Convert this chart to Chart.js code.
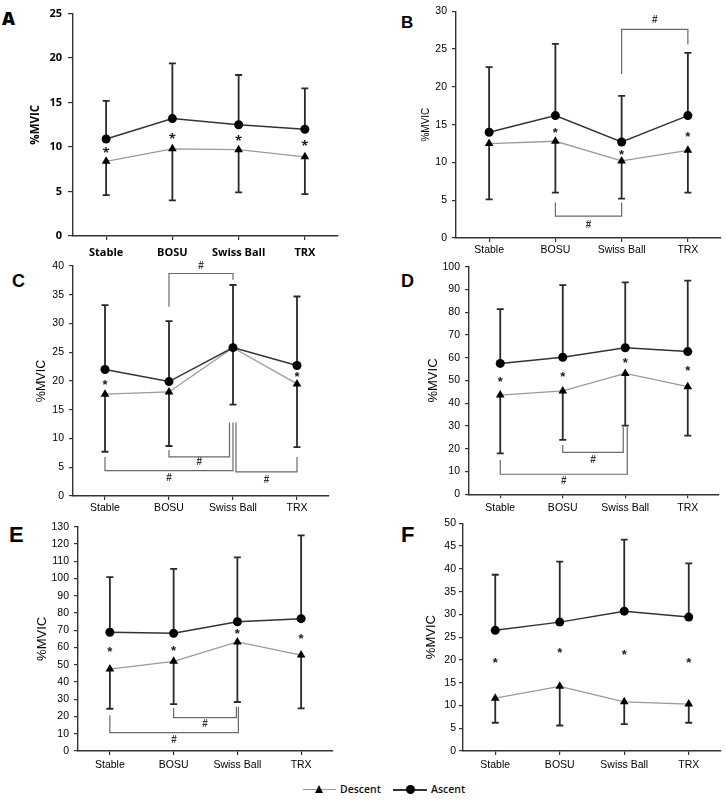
<!DOCTYPE html>
<html>
<head>
<meta charset="utf-8">
<script src="https://cdn.jsdelivr.net/npm/chart.js@4.4.0/dist/chart.umd.min.js"></script>
<style>
  body { margin: 0; background: #fff; width: 726px; height: 800px; position: relative; overflow: hidden; }
  canvas { position: absolute; }
  .letter { position: absolute; font-family: "Liberation Sans", Arial, sans-serif; font-weight: bold; color: #000; line-height: 1; }
  .lg { position: absolute; }
  .lgtext { position: absolute; font-family: "Open Sans", sans-serif; font-weight: 600; font-size: 10.5px; color: #111; line-height: 1; top: 784px; }
</style>
</head>
<body>
<div class="letter" style="left:2px;top:9px;font-size:18px;font-family:'Open Sans';font-weight:800">A</div>
<div class="letter" style="left:401px;top:14px;font-size:17px">B</div>
<div class="letter" style="left:12px;top:272px;font-size:18px">C</div>
<div class="letter" style="left:401px;top:272px;font-size:18px">D</div>
<div class="letter" style="left:9px;top:524px;font-size:22px">E</div>
<div class="letter" style="left:401px;top:524px;font-size:22px">F</div>

<div class="lg" style="left:303px;top:789px;width:33px;height:1.3px;background:#999"></div>
<div class="lg" style="left:314.5px;top:785px;width:0;height:0;border-left:4.5px solid transparent;border-right:4.5px solid transparent;border-bottom:8px solid #000"></div>
<div class="lgtext" style="left:340px">Descent</div>
<div class="lg" style="left:393px;top:789px;width:34px;height:1.5px;background:#333"></div>
<div class="lg" style="left:406px;top:785px;width:9px;height:9px;border-radius:50%;background:#000"></div>
<div class="lgtext" style="left:431px">Ascent</div>

<script>
const categories = ['Stable', 'BOSU', 'Swiss Ball', 'TRX'];

// A
const ascentA = [10.9, 13.2, 12.5, 12.0];
const ascentSdA = [4.3, 6.2, 5.6, 4.6];
const descentA = [8.4, 9.8, 9.7, 8.9];
const descentSdA = [3.8, 5.8, 4.8, 4.2];
const starsA = [9.7, 11.3, 11.1, 10.5];
const bracketsA = [];

// B
const ascentB = [14.0, 16.2, 12.7, 16.2];
const ascentSdB = [8.6, 9.5, 6.1, 8.3];
const descentB = [12.5, 12.8, 10.2, 11.6];
const descentSdB = [7.4, 6.8, 5.0, 5.6];
const starsB = [null, 14.4, 11.5, 13.8];
// [from, to, fromEnd, bar, toEnd, labelY]
const bracketsB = [
  [2, 3, 21.7, 27.6, 25.6, 28.8],
  [1, 2, 4.7, 2.9, 4.7, 1.7]
];

// C
const ascentC = [22.0, 19.9, 25.8, 22.7];
const ascentSdC = [11.2, 10.5, 10.9, 12.0];
const descentC = [17.7, 18.1, 25.8, 19.5];
const descentSdC = [10.0, 9.4, 9.9, 11.0];
const starsC = [19.9, null, null, 21.3];
const bracketsC = [
  [1, 2, 32.9, 38.7, 37.6, 40.0],
  [1, 2, 8.0, 6.8, 12.8, 5.9],
  [0, 2, 6.8, 4.4, 12.8, 3.1],
  [2, 3, 12.8, 4.2, 6.8, 2.8]
];

// D
const ascentD = [57.5, 60.2, 64.4, 62.7];
const ascentSdD = [23.9, 31.7, 28.7, 31.2];
const descentD = [43.6, 45.4, 53.1, 47.3];
const descentSdD = [25.6, 21.5, 22.9, 21.5];
const starsD = [51.0, 53.0, 59.0, 55.8];
const bracketsD = [
  [1, 2, 21.7, 18.4, 29.7, 15.1],
  [0, 2, 15.1, 8.8, 29.7, 5.6]
];

// E
const ascentE = [68.8, 68.2, 74.9, 76.7];
const ascentSdE = [32.0, 37.3, 37.3, 48.3];
const descentE = [47.5, 52.0, 63.2, 55.6];
const descentSdE = [23.0, 24.8, 34.8, 30.9];
const starsE = [59.5, 59.9, 69.5, 66.6];
const bracketsE = [
  [1, 2, 25.1, 19.3, 25.7, 15.6],
  [0, 2, 20.7, 10.6, 25.7, 6.0]
];

// F
const ascentF = [26.5, 28.3, 30.7, 29.4];
const ascentSdF = [12.2, 13.3, 15.7, 11.8];
const descentF = [11.6, 14.2, 10.8, 10.3];
const descentSdF = [5.4, 8.6, 4.9, 4.1];
const starsF = [20.0, 22.2, 21.8, 20.0];
const bracketsF = [];

const arial = '"Liberation Sans", Arial, sans-serif';

const panels = [
  { left: 0, top: 1, w: 345, h: 265, area: [73, 12, 338, 235], max: 25, step: 5,
    asc: ascentA, ascSd: ascentSdA, des: descentA, desSd: descentSdA, stars: starsA, brackets: bracketsA, nudge: [],
    font: '"Open Sans", sans-serif', weight: 'bold', tickSize: 11, titleSize: 11.5, titleX: 36, xPad: 6, yTick: 5, yPad: 6 },
  { left: 363, top: 0, w: 363, h: 268, area: [93, 10, 358, 238], max: 30, step: 5,
    asc: ascentB, ascSd: ascentSdB, des: descentB, desSd: descentSdB, stars: starsB, brackets: bracketsB, nudge: [[0, 0], [0, 0]],
    font: arial, weight: 'normal', tickSize: 10.5, titleSize: 10, titleX: 63, xPad: 2, yTick: 4, yPad: 5 },
  { left: 0, top: 254, w: 345, h: 272, area: [73, 12, 329, 242], max: 40, step: 5,
    asc: ascentC, ascSd: ascentSdC, des: descentC, desSd: descentSdC, stars: starsC, brackets: bracketsC, nudge: [[0, 0], [0, -3.5], [0, 0], [3, 0]],
    font: arial, weight: 'normal', tickSize: 10.5, titleSize: 12.5, titleX: 42, xPad: 2, yTick: 4, yPad: 5 },
  { left: 363, top: 255, w: 363, h: 270, area: [106, 11.7, 356, 239.3], max: 100, step: 10,
    asc: ascentD, ascSd: ascentSdD, des: descentD, desSd: descentSdD, stars: starsD, brackets: bracketsD, nudge: [[0, -2], [0, 2]],
    font: arial, weight: 'normal', tickSize: 10.5, titleSize: 13, titleX: 70, xPad: 3.5, yTick: 4, yPad: 5 },
  { left: 0, top: 515, w: 345, h: 265, area: [78, 11.7, 333, 236], max: 130, step: 10,
    asc: ascentE, ascSd: ascentSdE, des: descentE, desSd: descentSdE, stars: starsE, brackets: bracketsE, nudge: [[0, -1], [0, 1]],
    font: arial, weight: 'normal', tickSize: 10.5, titleSize: 13, titleX: 42, xPad: 3.5, yTick: 4, yPad: 5 },
  { left: 363, top: 511, w: 363, h: 268, area: [100, 12.3, 359, 240], max: 50, step: 5,
    asc: ascentF, ascSd: ascentSdF, des: descentF, desSd: descentSdF, stars: starsF, brackets: bracketsF, nudge: [],
    font: arial, weight: 'normal', tickSize: 10.5, titleSize: 13, titleX: 68, xPad: 3.5, yTick: 4, yPad: 3 }
];

// error bars, asterisks and # brackets
function overlay(p) {
  return {
    id: 'overlay',
    beforeDatasetsDraw(chart) {
      const { ctx, scales: { x, y } } = chart;
      ctx.save();
      ctx.strokeStyle = '#2a2a2a';
      ctx.lineWidth = 1.8;
      const sets = [[p.asc, p.ascSd, 1], [p.des, p.desSd, -1]];
      sets.forEach(([mean, sd, dir]) => {
        mean.forEach((m, i) => {
          const px = x.getPixelForValue(i);
          const y0 = y.getPixelForValue(m);
          const y1 = y.getPixelForValue(m + dir * sd[i]);
          ctx.beginPath();
          ctx.moveTo(px, y0); ctx.lineTo(px, y1);
          ctx.moveTo(px - 3.5, y1); ctx.lineTo(px + 3.5, y1);
          ctx.stroke();
        });
      });
      ctx.restore();
    },
    afterDraw(chart) {
      const { ctx, scales: { x, y } } = chart;
      ctx.save();
      ctx.fillStyle = '#1a1a1a';
      ctx.textAlign = 'center';
      const sz = 13;
      ctx.font = 'bold ' + sz + 'px ' + p.font;
      ctx.textBaseline = 'alphabetic';
      p.stars.forEach((v, i) => {
        if (v == null) return;
        ctx.fillText('*', x.getPixelForValue(i), y.getPixelForValue(v) + sz * 0.57);
      });
      ctx.strokeStyle = '#6a6a6a';
      ctx.lineWidth = 1.2;
      ctx.font = 'bold 10px ' + arial;
      ctx.textBaseline = 'middle';
      p.brackets.forEach((b, k) => {
        const [from, to, yFrom, yBar, yTo, yLab] = b;
        const nd = p.nudge[k] || [0, 0];
        const x1 = x.getPixelForValue(from) + nd[0];
        const x2 = x.getPixelForValue(to) + nd[1];
        ctx.beginPath();
        ctx.moveTo(x1, y.getPixelForValue(yFrom));
        ctx.lineTo(x1, y.getPixelForValue(yBar));
        ctx.lineTo(x2, y.getPixelForValue(yBar));
        ctx.lineTo(x2, y.getPixelForValue(yTo));
        ctx.stroke();
        ctx.fillStyle = '#333';
        ctx.fillText('#', (x1 + x2) / 2, y.getPixelForValue(yLab));
      });
      ctx.restore();
    }
  };
}

panels.forEach(p => {
  const canvas = document.createElement('canvas');
  canvas.width = p.w;
  canvas.height = p.h;
  canvas.style.left = p.left + 'px';
  canvas.style.top = p.top + 'px';
  canvas.style.width = p.w + 'px';
  canvas.style.height = p.h + 'px';
  document.body.appendChild(canvas);

  const [aL, aT, aR, aB] = p.area;
  const tickFont = { family: p.font, size: p.tickSize, weight: p.weight };

  new Chart(canvas, {
    type: 'line',
    data: {
      labels: categories,
      datasets: [
        { label: 'Ascent', data: p.asc, borderColor: '#333', borderWidth: 1.5,
          pointStyle: 'circle', pointRadius: 4.5, pointBackgroundColor: '#000', pointBorderColor: '#000', pointBorderWidth: 0 },
        { label: 'Descent', data: p.des, borderColor: '#9a9a9a', borderWidth: 1.3,
          pointStyle: 'triangle', pointRadius: 5, pointBackgroundColor: '#000', pointBorderColor: '#000', pointBorderWidth: 0 }
      ]
    },
    options: {
      responsive: false,
      animation: false,
      devicePixelRatio: 1,
      layout: { padding: { top: aT, right: p.w - aR, left: 0, bottom: 0 } },
      plugins: { legend: { display: false }, tooltip: { enabled: false } },
      scales: {
        x: {
          offset: true,
          grid: { drawOnChartArea: false, tickLength: 4, color: '#333', lineWidth: 1.2 },
          border: { color: '#333', width: 1.4 },
          ticks: { font: tickFont, color: '#000', padding: p.xPad, maxRotation: 0, autoSkip: false },
          afterFit(scale) { scale.height = p.h - aB; }
        },
        y: {
          min: 0, max: p.max,
          grid: { drawOnChartArea: false, tickLength: p.yTick, color: '#333', lineWidth: 1.2 },
          border: { color: '#333', width: 1.4 },
          ticks: { stepSize: p.step, font: tickFont, color: '#000', padding: p.yPad },
          title: { display: true, text: '%MVIC', color: '#000',
            font: { family: p.font, size: p.titleSize, weight: p.weight },
            padding: { top: p.titleX - p.titleSize * 0.6, bottom: 0 } },
          afterFit(scale) { scale.width = aL; }
        }
      }
    },
    plugins: [overlay(p)]
  });
});
</script>
</body>
</html>
